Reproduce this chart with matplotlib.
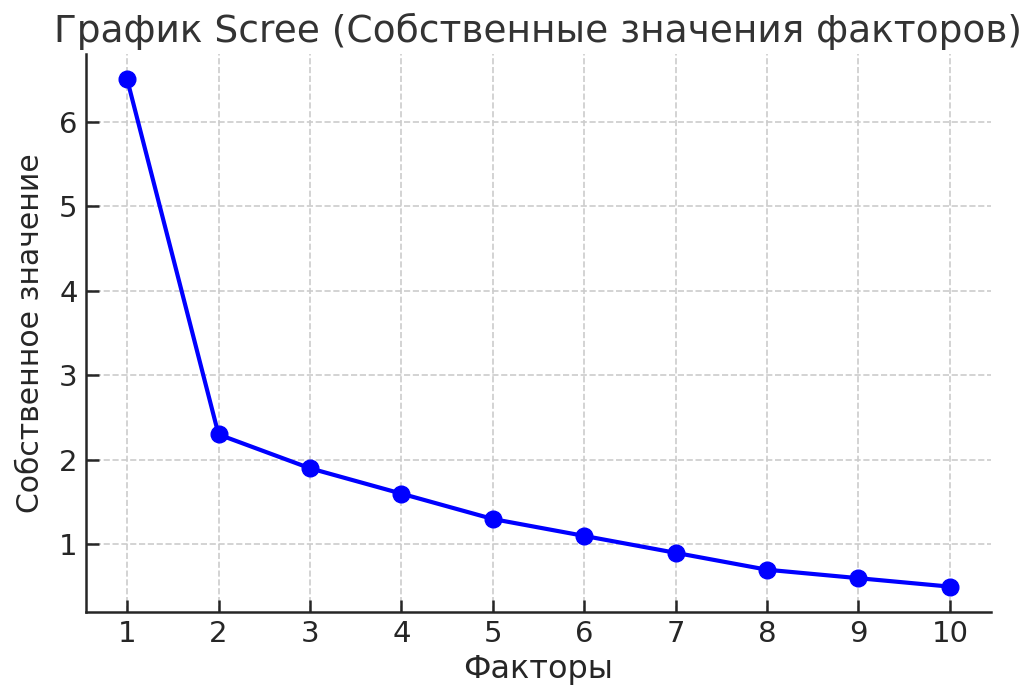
import matplotlib
matplotlib.use("Agg")
import matplotlib.pyplot as plt

factors = [1, 2, 3, 4, 5, 6, 7, 8, 9, 10]
eigenvalues = [6.5, 2.3, 1.9, 1.6, 1.3, 1.1, 0.9, 0.7, 0.6, 0.5]
title = "График Scree (Собственные значения факторов)"
xlabel = "Факторы"
ylabel = "Собственное значение"

plt.rcParams['font.family'] = ['DejaVu Sans']
text_color = '#262626'

fig = plt.figure(figsize=(10.29, 6.88), dpi=100)
W, H = 1029, 688
ax = fig.add_axes([86 / W, 1 - 612 / H, (991 - 86) / W, (612 - 54) / H])

ax.plot(factors, eigenvalues, color='blue', marker='o', linewidth=3, markersize=12)
ax.set_xticks(factors)
ax.set_yticks([1, 2, 3, 4, 5, 6])
ax.grid(True, linestyle='--', color='#cccccc', linewidth=1.2)
ax.set_axisbelow(True)
for s in ['top', 'right']:
    ax.spines[s].set_visible(False)
for s in ['left', 'bottom']:
    ax.spines[s].set_linewidth(1.8)
    ax.spines[s].set_color('#262626')
ax.tick_params(direction='in', length=9, width=1.8, labelsize=21, colors=text_color, pad=6)
ax.set_xlabel(xlabel, fontsize=23, color=text_color, labelpad=4)
ax.set_ylabel(ylabel, fontsize=21.5, color=text_color, labelpad=10)
ax.set_title(title, fontsize=27, color='#333333', pad=9)

fig.savefig("out.png", dpi=100)
